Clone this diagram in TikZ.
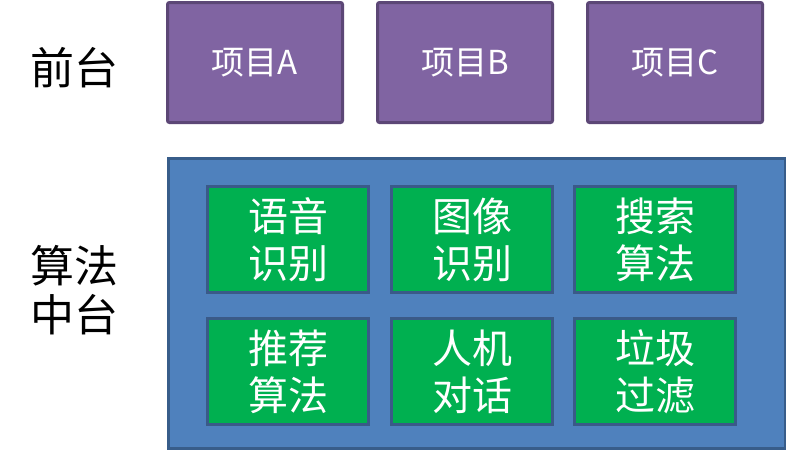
\documentclass[tikz,border=0pt]{standalone}
\usepackage{fontspec}
\newfontfamily\cjk{Noto Sans CJK SC}
\definecolor{purpfill}{HTML}{8064A2}
\definecolor{purpline}{HTML}{5C4776}
\definecolor{bluefill}{HTML}{4F81BD}
\definecolor{blueline}{HTML}{385D8A}
\definecolor{greenfill}{HTML}{00B050}
\definecolor{greenline}{HTML}{3A5A88}
\begin{document}
\begin{tikzpicture}[x=1pt,y=-1pt,
  proj/.style={draw=purpline,fill=purpfill,line width=3pt,rounded corners=2pt,minimum width=175pt,minimum height=120pt,anchor=north west,inner sep=0pt,text=white,font=\cjk\fontsize{33}{38}\selectfont},
  alg/.style={draw=greenline,fill=greenfill,line width=3pt,minimum width=161pt,minimum height=106pt,anchor=north west,inner sep=0pt,text=white,align=center,font=\cjk\fontsize{40}{47}\selectfont},
  side/.style={align=center,text=black,font=\cjk\fontsize{44}{49}\selectfont}]
\useasboundingbox (0,0) rectangle (786,450);
\fill[white] (0,0) rectangle (786,450);
\node[side] (front) at (74,68) {前台};
\node[side] (mid) at (74,290) {算法\\中台};
\node[proj] (pa) at (166,1) {项目A};
\node[proj] (pb) at (376,1) {项目B};
\node[proj] (pc) at (586,1) {项目C};
\node[draw=blueline,fill=bluefill,line width=3pt,minimum width=617pt,minimum height=290pt,anchor=north west,inner sep=0pt] (base) at (167,157) {};
\node[alg] (g1) at (206,185) {语音\\识别};
\node[alg] (g2) at (390,185) {图像\\识别};
\node[alg] (g3) at (573,185) {搜索\\算法};
\node[alg] (g4) at (206,317) {推荐\\算法};
\node[alg] (g5) at (390,317) {人机\\对话};
\node[alg] (g6) at (573,317) {垃圾\\过滤};
\end{tikzpicture}
\end{document}
